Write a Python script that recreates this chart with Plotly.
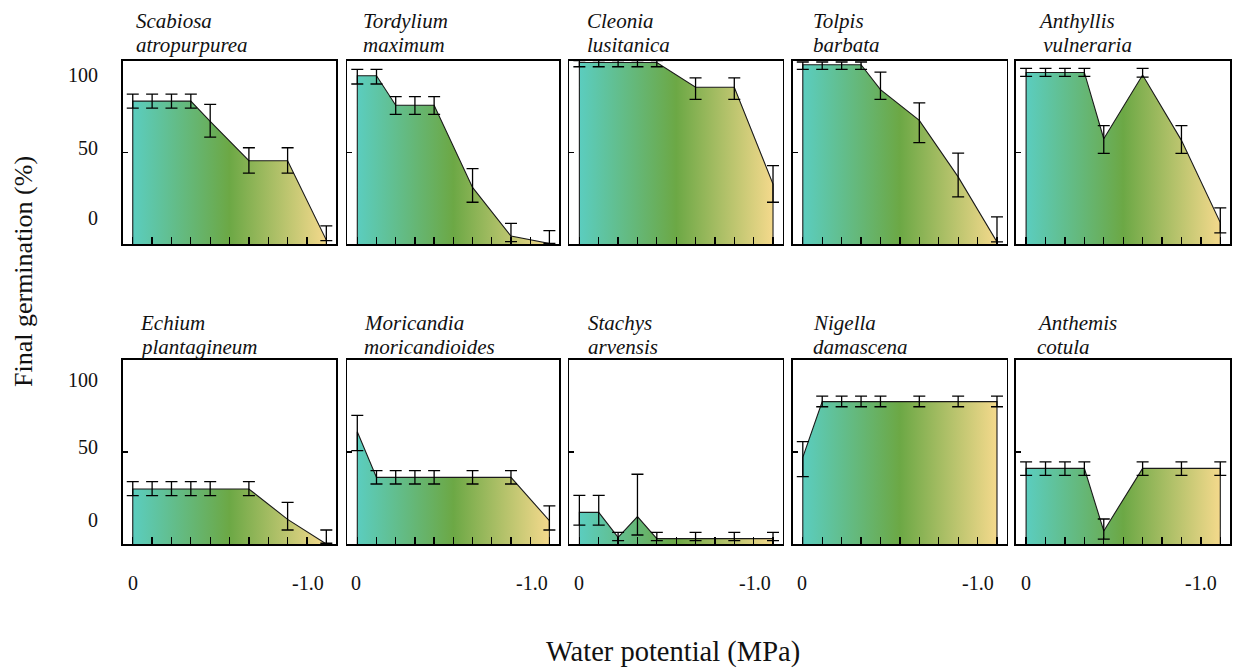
import plotly.graph_objects as go

W, H = 1234, 671

# ---------------- data ----------------
water_potential = [0, -0.1, -0.2, -0.3, -0.4, -0.6, -0.8, -1.0]

genus = ["Scabiosa", "Tordylium", "Cleonia", "Tolpis", "Anthyllis",
         "Echium", "Moricandia", "Stachys", "Nigella", "Anthemis"]
epithet = ["atropurpurea", "maximum", "lusitanica", "barbata", " vulneraria",
           "plantagineum", "moricandioides", "arvensis", "damascena", "cotula"]

germ_scabiosa = [78, 78, 78, 78, 67, 45.5, 45.5, 2.3]
up_scabiosa = [3.8, 3.8, 3.8, 3.8, 9.2, 7.1, 7.1, 7.7]
dn_scabiosa = [3.8, 3.8, 3.8, 3.8, 8.6, 6.7, 6.7, 0.3]

germ_tordylium = [91.8, 91.8, 75.7, 75.7, 75.7, 31.0, 4.5, 0.5]
up_tordylium = [3.5, 3.5, 4.7, 4.7, 4.7, 10.2, 6.9, 6.9]
dn_tordylium = [4.5, 4.5, 4.9, 4.9, 4.9, 8.1, 3.0, 0.0]

germ_cleonia = [99, 99, 99, 99, 99, 85.5, 85.5, 32.8]
up_cleonia = [1, 1, 1, 1, 1, 5.1, 5.1, 10.0]
dn_cleonia = [2.3, 2.3, 2.3, 2.3, 2.3, 6.6, 6.6, 9.9]

germ_tolpis = [97.8, 97.8, 97.8, 97.8, 84.2, 67.5, 36.7, 1.3]
up_tolpis = [1.5, 1.5, 1.5, 1.5, 9.6, 9.5, 13.0, 13.6]
dn_tolpis = [2.5, 2.5, 2.5, 2.5, 5.3, 12.1, 10.9, 0.0]

germ_anthyllis = [93.6, 93.6, 93.6, 93.6, 57.5, 92.2, 56.6, 11.8]
up_anthyllis = [2.2, 2.2, 2.2, 2.2, 7.1, 3.6, 8.0, 8.0]
dn_anthyllis = [2.1, 2.1, 2.1, 2.1, 8.0, 1.1, 7.1, 5.6]

germ_echium = [29.9, 29.9, 29.9, 29.9, 29.9, 29.9, 13.4, 0.4]
up_echium = [4, 4, 4, 4, 4, 4, 9.2, 7.2]
dn_echium = [3.6, 3.6, 3.6, 3.6, 3.6, 3.6, 5.8, 0.0]

germ_moricandia = [61, 36.2, 36.2, 36.2, 36.2, 36.2, 36.2, 12.7]
up_moricandia = [8.9, 3.7, 3.7, 3.7, 3.7, 3.7, 3.7, 8.0]
dn_moricandia = [10.3, 3.6, 3.6, 3.6, 3.6, 3.6, 3.6, 5.1]

germ_stachys = [17.2, 17.2, 3.6, 14.9, 2.9, 2.9, 2.9, 2.9]
up_stachys = [9.2, 9.2, 2.7, 23.0, 3.4, 3.4, 3.4, 3.4]
dn_stachys = [6.9, 6.9, 1.8, 10.0, 1.1, 1.1, 1.1, 1.1]

germ_nigella = [47.1, 77.4, 77.4, 77.4, 77.4, 77.4, 77.4, 77.4]
up_nigella = [8.5, 3.0, 3.0, 3.0, 3.0, 3.0, 3.0, 3.0]
dn_nigella = [10.5, 2.8, 2.8, 2.8, 2.8, 2.8, 2.8, 2.8]

germ_anthemis = [41.1, 41.1, 41.1, 41.1, 7.1, 41.1, 41.1, 41.1]
up_anthemis = [3.5, 3.5, 3.5, 3.5, 6.5, 3.5, 3.5, 3.5]
dn_anthemis = [3.8, 3.8, 3.8, 3.8, 4.4, 3.8, 3.8, 3.8]

germination = [germ_scabiosa, germ_tordylium, germ_cleonia, germ_tolpis, germ_anthyllis,
               germ_echium, germ_moricandia, germ_stachys, germ_nigella, germ_anthemis]
err_up = [up_scabiosa, up_tordylium, up_cleonia, up_tolpis, up_anthyllis,
          up_echium, up_moricandia, up_stachys, up_nigella, up_anthemis]
err_dn = [dn_scabiosa, dn_tordylium, dn_cleonia, dn_tolpis, dn_anthyllis,
          dn_echium, dn_moricandia, dn_stachys, dn_nigella, dn_anthemis]

y_tick_labels = ["100", "50", "0"]
x_tick_labels = ["0", "-1.0"]

# ---------------- layout geometry (pixels) ----------------
col_left = [122.7, 347.3, 569.3, 792.7, 1016.0]
col_right = [336.0, 559.0, 782.7, 1006.7, 1230.0]
row_top = [60.7, 360.0]
row_bot = [244.3, 544.0]

FONT = "Liberation Serif, Times New Roman, serif"
teal, green, yellow = "#5BCDBF", "#6CA845", "#F4D98C"

fig = go.Figure()
layout_axes = {}
annotations = []

def px(xp):
    return xp / W

def py(yp):
    return 1 - yp / H

for i in range(10):
    r, c = divmod(i, 5)
    n = i + 1
    xa = "x" if n == 1 else f"x{n}"
    ya = "y" if n == 1 else f"y{n}"
    vals = germination[i]
    xs = [water_potential[0]] + water_potential + [water_potential[-1]]
    ys = [0] + vals + [0]
    fig.add_trace(go.Scatter(
        x=xs, y=ys, mode="lines", fill="toself",
        line=dict(color="#1a1a1a", width=1.1),
        fillgradient=dict(type="horizontal", start=0, stop=-1.0,
                          colorscale=[[0, teal], [0.5, green], [1, yellow]]),
        xaxis=xa, yaxis=ya, showlegend=False, hoverinfo="skip"))
    fig.add_trace(go.Scatter(
        x=water_potential, y=vals, mode="markers",
        marker=dict(size=1, color="rgba(0,0,0,0)"),
        error_y=dict(type="data", symmetric=False, array=err_up[i],
                     arrayminus=err_dn[i], color="black", thickness=1.3, width=6),
        xaxis=xa, yaxis=ya, showlegend=False, hoverinfo="skip"))

    xkey = "xaxis" if n == 1 else f"xaxis{n}"
    ykey = "yaxis" if n == 1 else f"yaxis{n}"
    layout_axes[xkey] = dict(
        domain=[px(col_left[c]), px(col_right[c])], anchor=ya,
        range=[0.052, -1.05], showgrid=False, zeroline=False,
        showline=True, mirror=True, linecolor="black", linewidth=1.6,
        ticks="inside", tick0=0, dtick=0.1, ticklen=7, tickwidth=1.3,
        tickcolor="black", showticklabels=False)
    layout_axes[ykey] = dict(
        domain=[py(row_bot[r]), py(row_top[r])], anchor=xa,
        range=[0, 100], showgrid=False, zeroline=False,
        showline=True, mirror=True, linecolor="black", linewidth=1.6,
        ticks="inside", tickvals=[0, 50, 100], ticklen=5, tickwidth=1.3,
        tickcolor="black", showticklabels=False)

# species names
name_x = [[135, 361.7, 586, 811.7, 1036.7], [139.3, 363.3, 587.3, 811.7, 1036]]
name_y1 = [21.5, 322.5]
name_y2 = [45.5, 346.5]
for i in range(10):
    r, c = divmod(i, 5)
    annotations.append(dict(text=f"<i>{genus[i]}</i>", x=px(name_x[r][c] - 1), y=py(name_y1[r]),
                            xref="paper", yref="paper", xanchor="left", yanchor="middle",
                            showarrow=False, font=dict(family=FONT, size=21, color="#111")))
    annotations.append(dict(text=f"<i>{epithet[i]}</i>", x=px(name_x[r][c] - 1), y=py(name_y2[r]),
                            xref="paper", yref="paper", xanchor="left", yanchor="middle",
                            showarrow=False, font=dict(family=FONT, size=21, color="#111")))

# y tick labels (left column only)
ytick_y = [[75, 148, 218.3], [380, 446.7, 520]]
for r in range(2):
    for k, lab in enumerate(y_tick_labels):
        annotations.append(dict(text=lab, x=px(100), y=py(ytick_y[r][k]), xref="paper", yref="paper",
                                xanchor="right", yanchor="middle", showarrow=False,
                                font=dict(family=FONT, size=20, color="#111")))

# x tick labels (bottom row)
xlab0 = [132.7, 355.7, 578.7, 802.3, 1025.7]
xlab1 = [308, 531.7, 755, 978.3, 1200.7]
for c in range(5):
    for lab, xx in zip(x_tick_labels, [xlab0[c], xlab1[c]]):
        annotations.append(dict(text=lab, x=px(xx), y=py(583.3), xref="paper", yref="paper",
                                xanchor="center", yanchor="middle", showarrow=False,
                                font=dict(family=FONT, size=20, color="#111")))

# axis titles
annotations.append(dict(text="Water potential (MPa)", x=px(673), y=py(652), xref="paper", yref="paper",
                        xanchor="center", yanchor="middle", showarrow=False,
                        font=dict(family=FONT, size=28.5, color="#111")))
annotations.append(dict(text="Final germination (%)", x=px(23), y=py(272), xref="paper", yref="paper",
                        xanchor="center", yanchor="middle", showarrow=False, textangle=-90,
                        font=dict(family=FONT, size=26, color="#111")))

fig.update_layout(width=W, height=H, margin=dict(l=0, r=0, t=0, b=0),
                  paper_bgcolor="white", plot_bgcolor="white",
                  annotations=annotations, **layout_axes)

fig.write_html("out.html", config={"displayModeBar": False, "staticPlot": True})

# remove the browser's default page margin so the figure fills the window exactly
with open("out.html", "r", encoding="utf-8") as f:
    html = f.read()
html = html.replace("<head>", "<head><style>html,body{margin:0;padding:0;overflow:hidden;}</style>", 1)
with open("out.html", "w", encoding="utf-8") as f:
    f.write(html)
